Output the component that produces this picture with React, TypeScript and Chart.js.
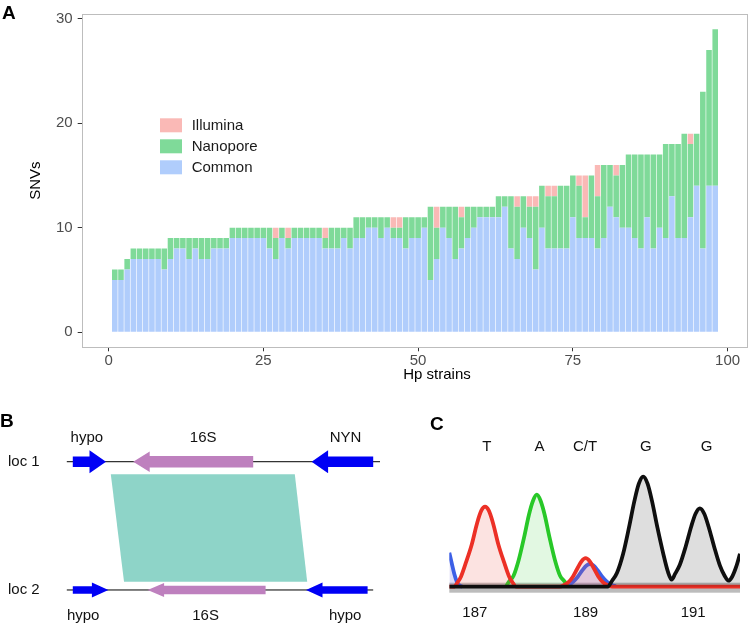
import React, { useEffect, useRef } from 'react';
import { Chart, registerables } from 'chart.js';

Chart.register(...registerables);

const FONT = '"Liberation Sans", Arial, Helvetica, sans-serif';
Chart.defaults.font.family = FONT;

// ---------------- Panel A data ----------------
const strains = Array.from({ length: 98 }, (_, i) => i + 1);
const commonSNVs = [
  5, 5, 6, 7, 7, 7, 7, 7, 6, 7,
  8, 8, 7, 8, 7, 7, 8, 8, 8, 9,
  9, 9, 9, 9, 9, 8, 7, 9, 8, 9,
  9, 9, 9, 9, 8, 8, 8, 9, 8, 9,
  9, 10, 10, 9, 10, 9, 9, 8, 9, 9,
  10, 5, 7, 10, 9, 7, 8, 9, 10, 11,
  11, 11, 11, 12, 8, 7, 10, 9, 6, 10,
  8, 8, 8, 8, 11, 9, 9, 9, 8, 9,
  12, 11, 10, 10, 9, 8, 11, 8, 10, 9,
  13, 9, 9, 11, 14, 8, 14, 14,
];
const nanoporeSNVs = [
  1, 1, 1, 1, 1, 1, 1, 1, 2, 2,
  1, 1, 2, 1, 2, 2, 1, 1, 1, 1,
  1, 1, 1, 1, 1, 2, 2, 1, 1, 1,
  1, 1, 1, 1, 1, 2, 2, 1, 2, 2,
  2, 1, 1, 2, 1, 1, 1, 3, 2, 2,
  1, 7, 3, 2, 3, 5, 3, 3, 2, 1,
  1, 1, 2, 1, 5, 5, 3, 3, 6, 4,
  5, 5, 6, 6, 4, 5, 2, 6, 5, 7,
  4, 4, 6, 7, 8, 9, 6, 9, 7, 9,
  5, 9, 10, 7, 5, 15, 13, 15,
];
const illuminaSNVs = [
  0, 0, 0, 0, 0, 0, 0, 0, 0, 0,
  0, 0, 0, 0, 0, 0, 0, 0, 0, 0,
  0, 0, 0, 0, 0, 0, 1, 0, 1, 0,
  0, 0, 0, 0, 1, 0, 0, 0, 0, 0,
  0, 0, 0, 0, 0, 1, 1, 0, 0, 0,
  0, 0, 2, 0, 0, 0, 1, 0, 0, 0,
  0, 0, 0, 0, 0, 1, 0, 1, 1, 0,
  1, 1, 0, 0, 0, 1, 4, 0, 3, 0,
  0, 1, 0, 0, 0, 0, 0, 0, 0, 0,
  0, 0, 0, 1, 0, 0, 0, 0,
];
const xTickValues = [0, 25, 50, 75, 100];
const yTickValues = [0, 10, 20, 30];
const xAxisTitle = 'Hp strains';
const yAxisTitle = 'SNVs';
const seriesNames = ['Common', 'Nanopore', 'Illumina'];

// ---------------- Panel B data (map units) ----------------
const locusNames = ['loc 1', 'loc 2'];
const locusTrack = [1, 0];
const locusStart = [16.7, 16.7];
const locusEnd = [95, 93.3];
const loc1GeneNames = ['hypo', '16S', 'NYN'];
const loc1GeneStart = [18.2, 33.3, 77.9];
const loc1GeneEnd = [26.5, 63.3, 93.3];
const loc1GeneStrand = [1, -1, -1];
const loc1GeneType = ['cds', 'rRNA', 'cds'];
const loc1LabelAt = [21.7, 50.8, 86.4];
const loc2GeneNames = ['hypo', '16S', 'hypo'];
const loc2GeneStart = [18.2, 36.9, 76.5];
const loc2GeneEnd = [27.1, 66.4, 91.9];
const loc2GeneStrand = [1, -1, -1];
const loc2GeneType = ['cds', 'rRNA', 'cds'];
const loc2LabelAt = [20.8, 51.4, 86.3];
const homologyTop = [27.7, 73.7];
const homologyBottom = [31.0, 76.8];

// ---------------- Panel C data (scan index, intensity; null = no signal drawn) ----------------
const redScan = [0, 1.5, 3.0, 4.0, 5.7, 7.7, 9.6, 11.0, 12.3, 13.6, 15.0, 16.9, 18.9, 20.6, 21.6, 23.0,
  38.0, 39.5, 41.0, 42.5, 44.0, 45.5, 46.9, 48.3, 49.8, 51.3, 52.8, 54.3, 56.0, 100];
const redIntensity = [0, 0, 5, 10, 24, 42, 64, 76, 80, 76, 64, 42, 24, 10, 5, 0,
  0, 1.7, 4.6, 10, 18, 25.5, 28.5, 25.5, 18, 10, 4.6, 1.7, 0, 0];
const greenScan = [19.5, 20.5, 22.1, 23.9, 25.7, 27.4, 28.8, 30.1, 31.4, 32.8, 34.5, 36.3, 38.1, 39.7, 40.8];
const greenIntensity = [0, 5, 11, 27, 49, 72, 86, 92, 86, 72, 49, 27, 11, 5, 0];
const blueScan = [0, 0.8, 1.7, 2.6, 3.4, 4.5, 20, 39.5, 41.0, 42.6, 44.2, 45.8, 47.2, 48.4, 49.6, 51.0, 52.6, 54.2, 55.8, 57.3];
const blueIntensity = [34, 24, 13, 5, 1.5, 0, null, 0.5, 1.8, 5, 10, 16.6, 21.3, 22.7, 21.3, 16.6, 10, 5, 1.8, 0.5];
const blackScan = [0, 54.5, 56.0, 57.7, 59.8, 61.8, 63.7, 65.2, 66.7, 68.2, 69.7, 71.6, 73.6, 75.2, 76.5,
  77.7, 79.3, 81.3, 83.2, 84.7, 86.2, 87.7, 89.2, 91.1, 93.1, 94.7, 96.0, 97.3, 98.7, 100];
const blackIntensity = [0, 0, 6, 14, 33, 59, 86, 103, 110, 103, 86, 59, 33, 15, 7,
  13, 22, 40, 60, 73, 78.4, 73, 60, 40, 21, 11, 6, 10, 20, 33];
const baseCalls = ['T', 'A', 'C/T', 'G', 'G'];
const baseCallAt = [12.9, 31.0, 46.7, 67.6, 88.5];
const positionLabels = ['187', '189', '191'];
const positionAt = [8.8, 46.9, 83.9];

// ---------------- helpers ----------------
const COLORS = {
  common: 'rgb(176,205,252)',
  nanopore: 'rgb(127,218,153)',
  illumina: 'rgb(250,185,182)',
};

function panelLetter(letter: string, x: number, y: number) {
  return {
    id: 'panelLetter' + letter,
    afterDraw(chart: any) {
      const ctx = chart.ctx;
      ctx.save();
      ctx.font = `bold 19px ${FONT}`;
      ctx.fillStyle = '#000';
      ctx.textAlign = 'left';
      ctx.textBaseline = 'alphabetic';
      ctx.fillText(letter, x, y);
      ctx.restore();
    },
  };
}

function drawArrow(ctx: CanvasRenderingContext2D, x0: number, x1: number, yc: number, strand: number,
  bodyHalf: number, headHalf: number, headLen: number, color: string) {
  ctx.fillStyle = color;
  ctx.beginPath();
  if (strand > 0) {
    const hb = x1 - headLen;
    ctx.moveTo(x0, yc - bodyHalf);
    ctx.lineTo(hb, yc - bodyHalf);
    ctx.lineTo(hb, yc - headHalf);
    ctx.lineTo(x1, yc);
    ctx.lineTo(hb, yc + headHalf);
    ctx.lineTo(hb, yc + bodyHalf);
    ctx.lineTo(x0, yc + bodyHalf);
  } else {
    const hb = x0 + headLen;
    ctx.moveTo(x1, yc - bodyHalf);
    ctx.lineTo(hb, yc - bodyHalf);
    ctx.lineTo(hb, yc - headHalf);
    ctx.lineTo(x0, yc);
    ctx.lineTo(hb, yc + headHalf);
    ctx.lineTo(hb, yc + bodyHalf);
    ctx.lineTo(x1, yc + bodyHalf);
  }
  ctx.closePath();
  ctx.fill();
}

export default function App() {
  const aRef = useRef<HTMLCanvasElement>(null);
  const bRef = useRef<HTMLCanvasElement>(null);
  const cRef = useRef<HTMLCanvasElement>(null);

  useEffect(() => {
    const charts: Chart[] = [];

    // ---------- Panel A ----------
    const boxPlugin = {
      id: 'panelBox',
      afterDraw(chart: any) {
        const { ctx, chartArea } = chart;
        const { left, top, right, bottom } = chartArea;
        ctx.save();
        ctx.strokeStyle = '#bdbdbd';
        ctx.lineWidth = 1;
        ctx.strokeRect(Math.round(left) + 0.5, Math.round(top) + 0.5,
          Math.round(right) - Math.round(left) - 1, Math.round(bottom) - Math.round(top));
        ctx.font = `15px ${FONT}`;
        ctx.fillStyle = '#000';
        ctx.textAlign = 'center';
        ctx.textBaseline = 'middle';
        ctx.fillText(xAxisTitle, 437, 375);
        const ds = chart.data.datasets;
        [2, 1, 0].forEach((di: number, k: number) => {
          const y0 = 118.3 + k * 21;
          ctx.fillStyle = ds[di].backgroundColor;
          ctx.fillRect(160, y0, 22, 14);
          ctx.fillStyle = '#1a1a1a';
          ctx.textAlign = 'left';
          ctx.fillText(ds[di].label, 191.7, y0 + 7.5);
        });
        ctx.restore();
      },
    };

    const mk = (arr: number[]) => arr.map((v, i) => ({ x: strains[i], y: v }));
    const chartA = new Chart(aRef.current!, {
      type: 'bar',
      data: {
        datasets: [
          { label: seriesNames[0], data: mk(commonSNVs), backgroundColor: COLORS.common },
          { label: seriesNames[1], data: mk(nanoporeSNVs), backgroundColor: COLORS.nanopore },
          { label: seriesNames[2], data: mk(illuminaSNVs), backgroundColor: COLORS.illumina },
        ] as any,
      },
      options: {
        animation: false,
        responsive: false,
        maintainAspectRatio: false,
        layout: { padding: { left: 0, right: 1.7, top: 5.3, bottom: 0 } },
        datasets: { bar: { barPercentage: 0.9, categoryPercentage: 1, borderWidth: 0 } } as any,
        plugins: { legend: { display: false }, tooltip: { enabled: false } },
        scales: {
          x: {
            type: 'linear',
            stacked: true,
            offset: false,
            min: -4.345,
            max: 103.345,
            afterBuildTicks: (s: any) => { s.ticks = xTickValues.map((v) => ({ value: v })); },
            afterFit: (s: any) => { s.height = 42.7; },
            grid: { display: true, offset: false, drawOnChartArea: false, drawTicks: true, tickLength: 4, tickColor: '#333', tickWidth: 1 },
            border: { display: false },
            ticks: { color: '#4d4d4d', font: { size: 15, family: FONT }, padding: 1, maxRotation: 0, autoSkip: false },
          },
          y: {
            type: 'linear',
            stacked: true,
            min: -1.45,
            max: 30.45,
            afterBuildTicks: (s: any) => { s.ticks = yTickValues.map((v) => ({ value: v })); },
            afterFit: (s: any) => { s.width = 81.7; },
            grid: { display: true, offset: false, drawOnChartArea: false, drawTicks: true, tickLength: 4, tickColor: '#333', tickWidth: 1 },
            border: { display: false },
            ticks: { color: '#4d4d4d', font: { size: 15, family: FONT }, padding: 5 },
            title: { display: true, text: yAxisTitle, color: '#000', font: { size: 15, family: FONT }, padding: { top: 27, bottom: 0 } },
          },
        } as any,
      },
      plugins: [boxPlugin, panelLetter('A', 2, 18.5)],
    });
    charts.push(chartA);

    // ---------- Panel B ----------
    const geneMapPlugin = {
      id: 'geneMap',
      beforeDatasetsDraw(chart: any) {
        const { ctx, scales } = chart;
        const x = scales.x, y = scales.y;
        const yTop = y.getPixelForValue(locusTrack[0]) + 12.6;
        const yBot = y.getPixelForValue(locusTrack[1]) - 8.3;
        ctx.save();
        ctx.fillStyle = 'rgb(142,212,200)';
        ctx.beginPath();
        ctx.moveTo(x.getPixelForValue(homologyTop[0]), yTop);
        ctx.lineTo(x.getPixelForValue(homologyTop[1]), yTop);
        ctx.lineTo(x.getPixelForValue(homologyBottom[1]), yBot);
        ctx.lineTo(x.getPixelForValue(homologyBottom[0]), yBot);
        ctx.closePath();
        ctx.fill();
        ctx.restore();
      },
      afterDatasetsDraw(chart: any) {
        const { ctx, scales } = chart;
        const x = scales.x, y = scales.y;
        ctx.save();
        const loci = [
          { names: loc1GeneNames, start: loc1GeneStart, end: loc1GeneEnd, strand: loc1GeneStrand, type: loc1GeneType, labelAt: loc1LabelAt, body: 5.2, head: 11.5, headR: 10.2, labelDy: -23.7 },
          { names: loc2GeneNames, start: loc2GeneStart, end: loc2GeneEnd, strand: loc2GeneStrand, type: loc2GeneType, labelAt: loc2LabelAt, body: 3.7, head: 7.4, headR: 7.0, labelDy: 26 },
        ];
        loci.forEach((L, li) => {
          const yc = y.getPixelForValue(locusTrack[li]);
          for (let g = 0; g < L.names.length; g++) {
            const rr = L.type[g] === 'rRNA';
            drawArrow(ctx, x.getPixelForValue(L.start[g]), x.getPixelForValue(L.end[g]), yc, L.strand[g],
              rr ? L.body + 0.6 : L.body, rr ? L.headR : L.head, 16.5, rr ? 'rgb(190,128,190)' : 'rgb(0,0,245)');
            ctx.fillStyle = '#111';
            ctx.font = `15px ${FONT}`;
            ctx.textAlign = 'center';
            ctx.textBaseline = 'middle';
            ctx.fillText(L.names[g], x.getPixelForValue(L.labelAt[g]), yc + L.labelDy);
          }
          ctx.fillStyle = '#111';
          ctx.textAlign = 'left';
          ctx.fillText(locusNames[li], 8, yc);
        });
        ctx.restore();
      },
    };
    const chartB = new Chart(bRef.current!, {
      type: 'line',
      data: {
        datasets: locusNames.map((n, i) => ({
          label: n,
          data: [{ x: locusStart[i], y: locusTrack[i] }, { x: locusEnd[i], y: locusTrack[i] }],
          borderColor: '#000',
          borderWidth: 1,
          pointRadius: 0,
          fill: false,
        })) as any,
      },
      options: {
        animation: false,
        responsive: false,
        maintainAspectRatio: false,
        layout: { padding: 0 },
        plugins: { legend: { display: false }, tooltip: { enabled: false } },
        scales: {
          x: { type: 'linear', min: 0, max: 100, display: false },
          y: { type: 'linear', min: -0.273, max: 1.559, display: false },
        },
      },
      plugins: [geneMapPlugin, panelLetter('B', 0, 37)],
    });
    charts.push(chartB);

    // ---------- Panel C ----------
    const traceLabelPlugin = {
      id: 'traceLabels',
      beforeDatasetsDraw(chart: any) {
        const { ctx, chartArea, scales } = chart;
        const y = scales.y;
        const t = y.getPixelForValue(4);
        const b = y.getPixelForValue(-6);
        ctx.save();
        ctx.fillStyle = '#bcbcbc';
        ctx.fillRect(chartArea.left, t, chartArea.right - chartArea.left, b - t);
        ctx.restore();
      },
      afterDraw(chart: any) {
        const { ctx, chartArea, scales } = chart;
        const x = scales.x;
        ctx.save();
        ctx.font = `15px ${FONT}`;
        ctx.fillStyle = '#111';
        ctx.textAlign = 'center';
        ctx.textBaseline = 'middle';
        baseCalls.forEach((b, i) => ctx.fillText(b, x.getPixelForValue(baseCallAt[i]), chartArea.top - 19.7));
        positionLabels.forEach((p, i) => ctx.fillText(p, x.getPixelForValue(positionAt[i]), chartArea.bottom + 19.6));
        ctx.restore();
      },
    };
    const pts = (xs: number[], ys: (number | null)[]) => xs.map((v, i) => ({ x: v, y: ys[i] }));
    const trace = (label: string, xs: number[], ys: (number | null)[], color: string, fillColor: string) => ({
      label,
      data: pts(xs, ys),
      borderColor: color,
      backgroundColor: fillColor,
      borderWidth: 3.8,
      pointRadius: 0,
      fill: 'origin',
      spanGaps: false,
      cubicInterpolationMode: 'monotone',
    });
    const chartC = new Chart(cRef.current!, {
      type: 'line',
      data: {
        datasets: [
          trace('G', blackScan, blackIntensity, 'rgb(15,15,15)', 'rgba(0,0,0,0.13)'),
          trace('T', redScan, redIntensity, 'rgb(236,48,38)', 'rgba(240,90,80,0.17)'),
          trace('A', greenScan, greenIntensity, 'rgb(40,200,40)', 'rgba(60,210,60,0.15)'),
          trace('C', blueScan, blueIntensity, 'rgb(60,95,230)', 'rgba(110,100,220,0.22)'),
        ] as any,
      },
      options: {
        animation: false,
        responsive: false,
        maintainAspectRatio: false,
        layout: { padding: { left: 49.3, right: 10, top: 76.7, bottom: 31.3 } },
        plugins: { legend: { display: false }, tooltip: { enabled: false } },
        scales: {
          x: { type: 'linear', min: 0, max: 100, display: false },
          y: { type: 'linear', min: -7, max: 120, display: false },
        },
      },
      plugins: [traceLabelPlugin, panelLetter('C', 30, 40)],
    });
    charts.push(chartC);

    return () => { charts.forEach((c) => c.destroy()); };
  }, []);

  return (
    <div style={{ position: 'absolute', left: 0, top: 0, width: 750, height: 625, background: '#fff', overflow: 'hidden' }}>
      <canvas ref={aRef} width={750} height={390} style={{ position: 'absolute', left: 0, top: 0 }} />
      <canvas ref={bRef} width={400} height={235} style={{ position: 'absolute', left: 0, top: 390 }} />
      <canvas ref={cRef} width={350} height={235} style={{ position: 'absolute', left: 400, top: 390 }} />
    </div>
  );
}
